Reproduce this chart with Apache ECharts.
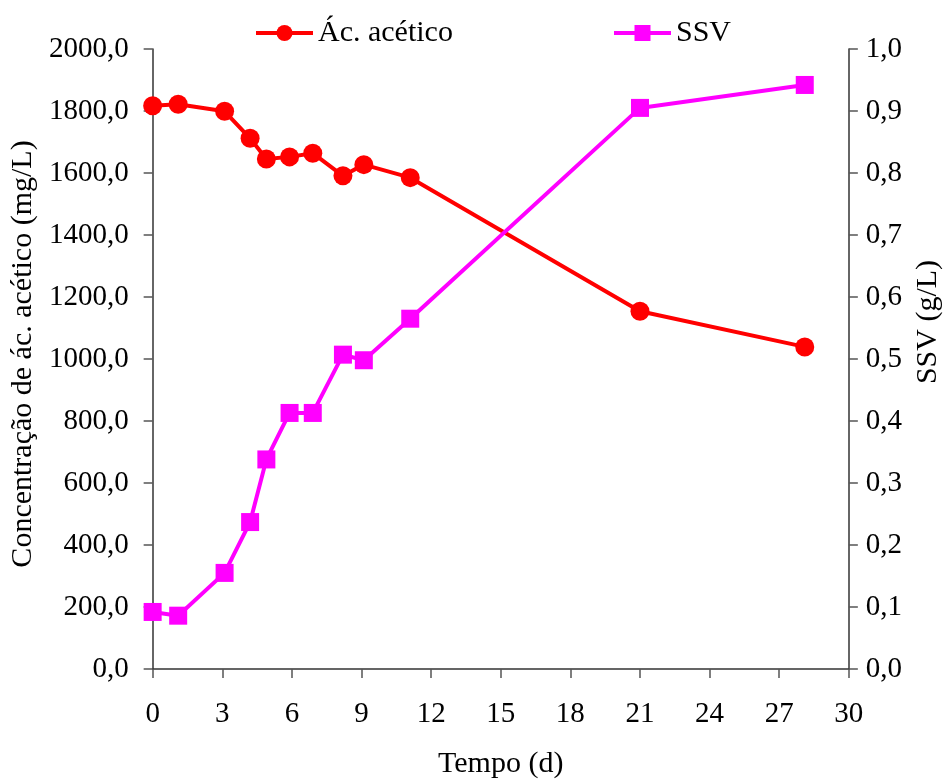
<!DOCTYPE html>
<html>
<head>
<meta charset="utf-8">
<script src="https://cdn.jsdelivr.net/npm/echarts@6/dist/echarts.min.js"></script>
<style>html,body{margin:0;padding:0;background:#fff;}#c{width:951px;height:784px;}</style>
</head>
<body>
<div id="c"></div>
<script>
const days = [0, 1.1, 3.1, 4.2, 4.9, 5.9, 6.9, 8.2, 9.1, 11.1, 21.0, 28.1];
const acetic = [1817, 1822, 1799, 1712, 1645, 1652, 1664, 1591, 1627, 1585, 1154, 1039];
const ssv = [0.092, 0.086, 0.155, 0.237, 0.338, 0.413, 0.413, 0.507, 0.498, 0.565, 0.905, 0.942];
const xTicks = [0, 3, 6, 9, 12, 15, 18, 21, 24, 27, 30];
const seriesNames = ['Ác. acético', 'SSV'];
const axisNames = ['Tempo (d)', 'Concentração de ác. acético (mg/L)', 'SSV (g/L)'];

const FONT = 'Liberation Serif';
const FS = 30;
const TFS = 29;
const chart = echarts.init(document.getElementById('c'));
const comma = (d) => (v) => v.toFixed(d).replace('.', ',');
const axisLine = { show: true, lineStyle: { color: '#333', width: 1.5 } };
const axisTick = { show: true, length: 9, lineStyle: { color: '#555', width: 1.5 } };
const labelStyle = { fontFamily: FONT, fontSize: TFS, color: '#000' };
const legendCommon = {
  top: 13, itemWidth: 57, itemHeight: 20,
  lineStyle: { width: 4 },
  textStyle: { fontFamily: FONT, fontSize: FS, color: '#000' }
};

chart.setOption({
  animation: false,
  backgroundColor: '#fff',
  textStyle: { fontFamily: FONT },
  grid: { left: 143, right: 92, top: 49, bottom: 114, containLabel: false },
  legend: [
    Object.assign({ data: [seriesNames[0]], left: 249 }, legendCommon),
    Object.assign({ data: [seriesNames[1]], left: 607 }, legendCommon)
  ],
  xAxis: {
    type: 'value', min: xTicks[0], max: xTicks[xTicks.length - 1], interval: 3,
    name: axisNames[0], nameLocation: 'middle', nameGap: 80,
    nameTextStyle: { fontFamily: FONT, fontSize: FS, color: '#000' },
    axisLine: axisLine, axisTick: axisTick, splitLine: { show: false },
    axisLabel: Object.assign({ margin: 31 }, labelStyle)
  },
  yAxis: [
    {
      type: 'value', min: 0, max: 2000, interval: 200, position: 'left',
      name: axisNames[1], nameLocation: 'middle', nameGap: 103, nameRotate: 90,
      nameTextStyle: { fontFamily: FONT, fontSize: FS, color: '#000', padding: [0, 0, 0, 10] },
      axisLine: axisLine, axisTick: axisTick, splitLine: { show: false },
      axisLabel: Object.assign({ margin: 24, formatter: comma(1) }, labelStyle)
    },
    {
      type: 'value', min: 0, max: 1, interval: 0.1, position: 'right',
      name: axisNames[2], nameLocation: 'middle', nameGap: 58, nameRotate: 90,
      nameTextStyle: { fontFamily: FONT, fontSize: FS, color: '#000', padding: [0, 0, 0, 74] },
      axisLine: axisLine, axisTick: axisTick, splitLine: { show: false },
      axisLabel: Object.assign({ margin: 17, formatter: comma(1) }, labelStyle)
    }
  ],
  series: [
    {
      name: seriesNames[0], type: 'line', yAxisIndex: 0,
      data: days.map((d, i) => [d, acetic[i]]),
      symbol: 'circle', symbolSize: 19,
      lineStyle: { color: '#ff0000', width: 4 },
      itemStyle: { color: '#ff0000' }
    },
    {
      name: seriesNames[1], type: 'line', yAxisIndex: 1,
      data: days.map((d, i) => [d, ssv[i]]),
      symbol: 'rect', symbolSize: 18,
      lineStyle: { color: '#ff00ff', width: 4 },
      itemStyle: { color: '#ff00ff' }
    }
  ]
});
</script>
</body>
</html>
